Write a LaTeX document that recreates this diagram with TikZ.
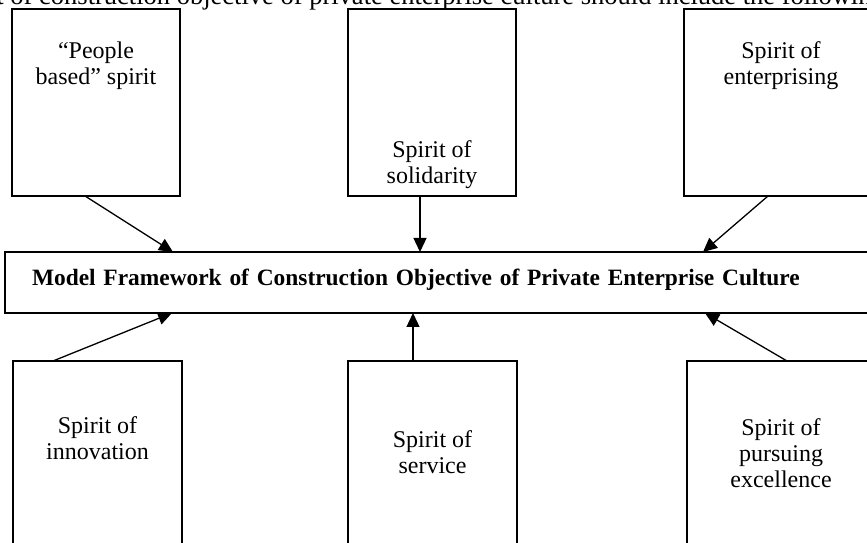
\documentclass[tikz,border=0pt]{standalone}
\usepackage{fontspec}
\setmainfont{Liberation Serif}
\usetikzlibrary{arrows.meta, positioning, calc}

\begin{document}
\begin{tikzpicture}[
        x=1pt, y=1pt,
        font=\fontsize{24}{26}\selectfont,
        spirit/.style = {
            draw=black,
            line width=1.6pt,
            rectangle,
            inner sep=0pt,
            outer sep=0pt,
            minimum width=168pt,
            align=center,
        },
        frame/.style = {
            draw=black,
            line width=1.6pt,
            rectangle,
            inner xsep=27pt,
            inner ysep=0pt,
            outer sep=0pt,
            text width=841pt,
            align=left,
            font=\bfseries\fontsize{23.4}{26}\selectfont,
        },
        link/.style = {
            -{Triangle[length=14pt, width=13pt]},
            line width=1.3pt
        }
    ]

    \useasboundingbox (0,0) rectangle (867,543);
    \clip (0,0) rectangle (867,543);

    % cut-off line of the running text
    \node[anchor=base west, inner sep=0pt, font=\fontsize{26.5}{28}\selectfont] (lead) at (-3.7,538)
        {t of construction objective of private enterprise culture should include the following};

    \node[frame, text height=34pt, text depth=27pt] (model) at (452.5,260.5)
        {Model Framework of Construction Objective of Private Enterprise Culture};

    % upper row
    \node[spirit, text height=76pt, text depth=111pt, above right=56pt and 7pt of model.north west] (people) {“People\\based” spirit};
    \node[spirit, text height=175pt, text depth=12pt, right=168pt of people] (solidarity) {Spirit of\\solidarity};
    \node[spirit, minimum width=194pt, text height=76pt, text depth=111pt, right=168pt of solidarity] (enterprising) {Spirit of\\enterprising};

    % lower row
    \node[spirit, minimum width=169pt, text height=99pt, text depth=130pt, below right=48pt and 8pt of model.south west] (innovation) {Spirit of\\innovation};
    \node[spirit, minimum width=169pt, text height=113pt, text depth=116pt, right=166pt of innovation] (service) {Spirit of\\service};
    \node[spirit, minimum width=188pt, text height=127pt, text depth=102pt, right=170pt of service] (excellence) {Spirit of\\pursuing\\excellence};

    \draw[link] ($(people.south west)+(73,0)$) -- ($(model.north west)+(168,0)$);
    \draw[link] ($(solidarity.south west)+(72,0)$) -- ($(model.north west)+(415,0)$);
    \draw[link] ($(enterprising.south west)+(84,0)$) -- ($(model.north west)+(698,0)$);

    \draw[link] ($(innovation.north west)+(40,0)$) -- ($(model.south west)+(167,0)$);
    \draw[link] ($(service.north west)+(65,0)$) -- ($(model.south west)+(408,0)$);
    \draw[link] ($(excellence.north west)+(100,0)$) -- ($(model.south west)+(700,0)$);

\end{tikzpicture}
\end{document}
